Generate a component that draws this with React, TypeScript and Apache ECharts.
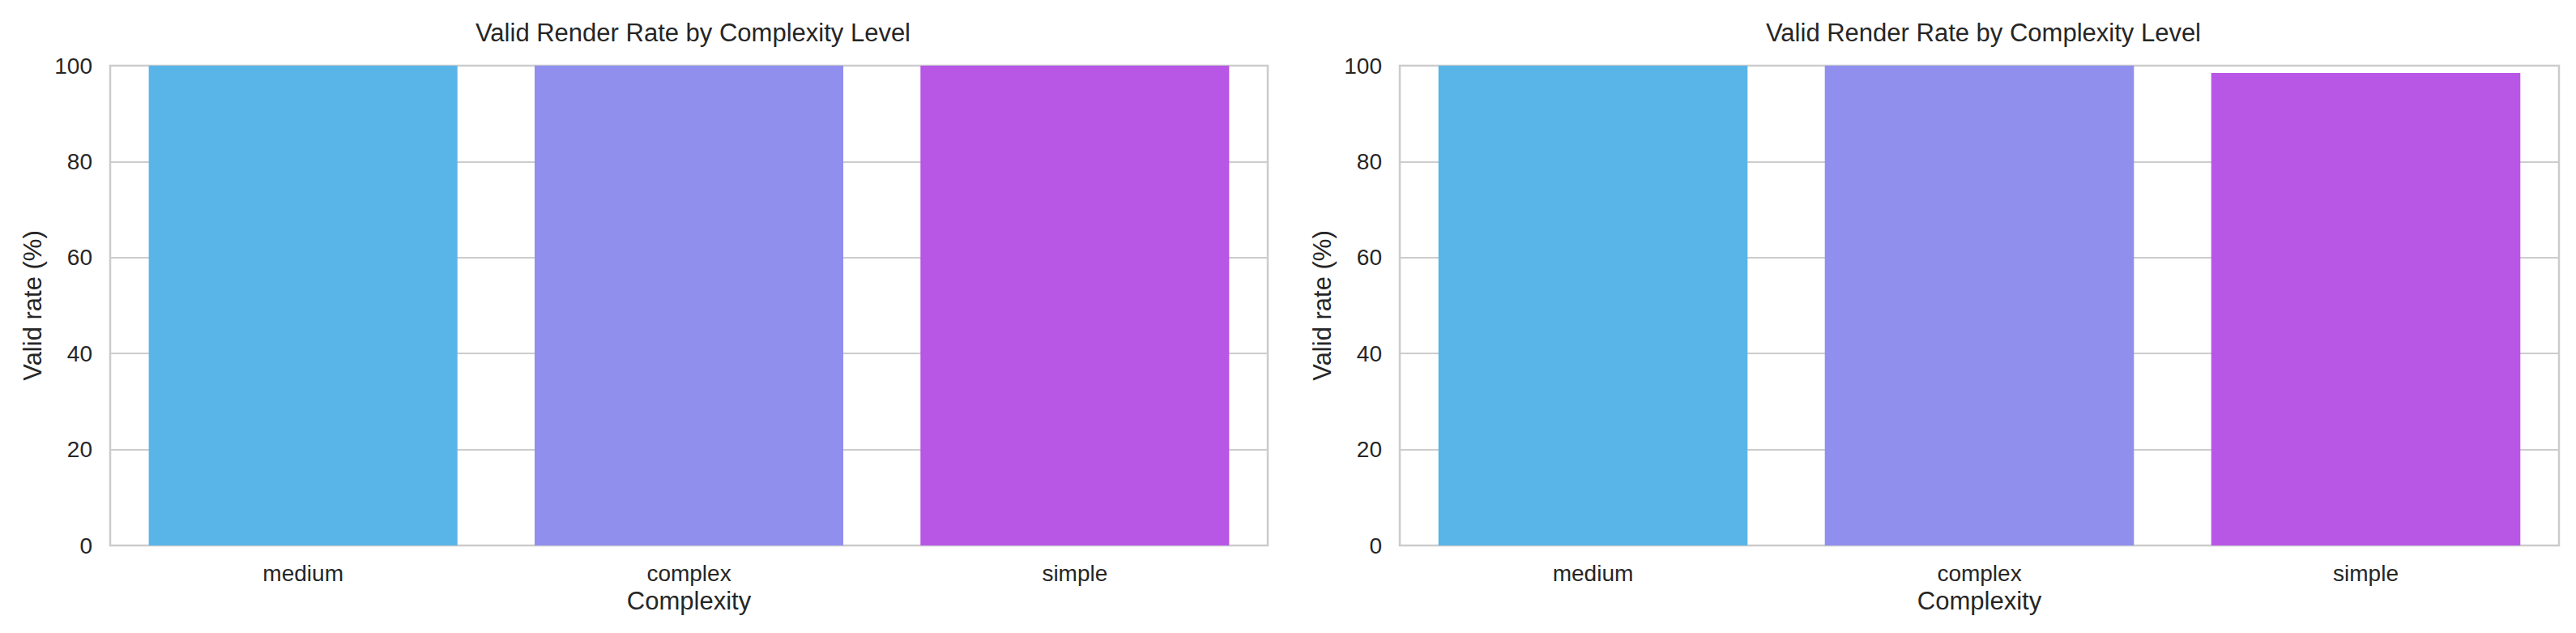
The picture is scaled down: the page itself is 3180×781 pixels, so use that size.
import React, { useEffect, useRef } from "react";
import * as echarts from "echarts";

const categories = ["medium", "complex", "simple"];
const leftValues = [100, 100, 100];
const rightValues = [100, 100, 98.5];
const barColors = ["#59B5E8", "#908FEE", "#B857E6"];
const yTicks = [0, 20, 40, 60, 80, 100];
const titleText = "Valid Render Rate by Complexity Level";
const xName = "Complexity";
const yName = "Valid rate (%)";

const FONT = "'Liberation Sans', Arial, sans-serif";
const TEXT = "#262626";

export default function App() {
  const ref = useRef<HTMLDivElement>(null);
  useEffect(() => {
    if (!ref.current) return;
    const chart = echarts.init(ref.current, undefined, { renderer: "svg" });
    const grids = [
      { left: 136, top: 81, width: 1429, height: 592 },
      { left: 1728, top: 81, width: 1431, height: 592 },
    ];
    const xAxes = grids.map((_, i) => ({
      type: "category",
      gridIndex: i,
      data: categories,
      name: xName,
      nameLocation: "middle",
      nameGap: 52,
      nameTextStyle: { fontFamily: FONT, fontSize: 31, color: TEXT },
      axisLine: { show: false },
      axisTick: { show: false },
      axisLabel: { fontFamily: FONT, fontSize: 28, color: TEXT, margin: 20 },
      splitLine: { show: false },
    }));
    const yAxes = grids.map((_, i) => ({
      type: "value",
      gridIndex: i,
      min: yTicks[0],
      max: yTicks[yTicks.length - 1],
      interval: yTicks[1] - yTicks[0],
      name: yName,
      nameLocation: "middle",
      nameGap: 80,
      nameTextStyle: { fontFamily: FONT, fontSize: 31, color: TEXT },
      axisLine: { show: false },
      axisTick: { show: false },
      axisLabel: { fontFamily: FONT, fontSize: 28, color: TEXT, margin: 22 },
      splitLine: { show: true, lineStyle: { color: "#cccccc", width: 2 } },
    }));
    const mkData = (vals: number[]) =>
      vals.map((v, i) => ({ value: v, itemStyle: { color: barColors[i] } }));
    chart.setOption({
      animation: false,
      backgroundColor: "#ffffff",
      title: grids.map((g) => ({
        text: titleText,
        left: g.left + g.width / 2,
        top: 20,
        textAlign: "center",
        textStyle: { fontFamily: FONT, fontSize: 31, color: TEXT, fontWeight: "normal" },
      })),
      grid: grids.map((g) => ({
        ...g,
        show: true,
        borderColor: "#cccccc",
        borderWidth: 2.5,
        backgroundColor: "transparent",
        containLabel: false,
      })),
      xAxis: xAxes,
      yAxis: yAxes,
      series: [
        {
          type: "bar",
          xAxisIndex: 0,
          yAxisIndex: 0,
          data: mkData(leftValues),
          barCategoryGap: "20%",
        },
        {
          type: "bar",
          xAxisIndex: 1,
          yAxisIndex: 1,
          data: mkData(rightValues),
          barCategoryGap: "20%",
        },
      ],
    });
    return () => chart.dispose();
  }, []);
  return (
    <div
      ref={ref}
      style={{ position: "fixed", left: 0, top: 0, width: 3180, height: 781, background: "#fff" }}
    />
  );
}
